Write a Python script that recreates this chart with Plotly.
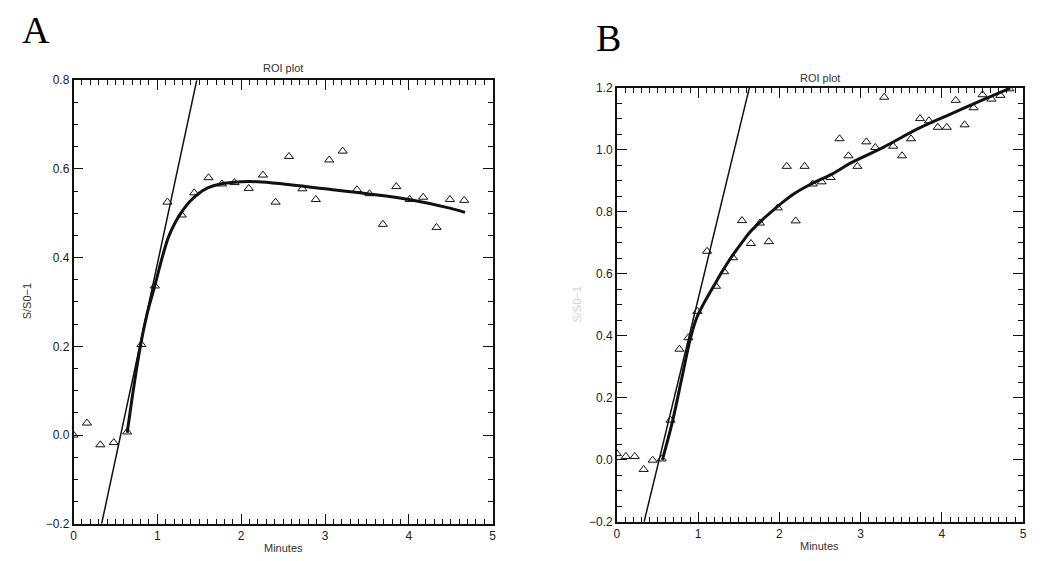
import plotly.graph_objects as go

# ── Panel A: ROI samples, fitted curve and initial-slope line ──
a_minutes = [0, 0.16, 0.32, 0.48, 0.64, 0.81, 0.97, 1.12, 1.29, 1.44, 1.61, 1.77,
             1.92, 2.09, 2.26, 2.41, 2.57, 2.73, 2.89, 3.05, 3.21, 3.38, 3.53,
             3.69, 3.85, 4.01, 4.17, 4.33, 4.49, 4.66]
a_signal = [0.0, 0.027, -0.022, -0.017, 0.007, 0.204, 0.336, 0.525, 0.496, 0.546,
            0.580, 0.566, 0.569, 0.556, 0.586, 0.525, 0.628, 0.555, 0.531, 0.620,
            0.640, 0.553, 0.544, 0.475, 0.560, 0.531, 0.536, 0.468, 0.531, 0.529]
a_fit_minutes = [0.64, 0.72, 0.80, 0.88, 0.97, 1.05, 1.13, 1.21, 1.29, 1.39, 1.49,
                 1.60, 1.75, 2.0, 2.2, 2.5, 3.0, 3.5, 4.0, 4.5, 4.67]
a_fit_signal = [0.005, 0.11, 0.203, 0.275, 0.337, 0.395, 0.445, 0.478, 0.503,
                0.527, 0.544, 0.557, 0.566, 0.571, 0.571, 0.566, 0.555, 0.544,
                0.531, 0.511, 0.502]
a_slope_minutes = [0.335, 1.47]
a_slope_signal = [-0.2, 0.8]

# ── Panel B ──
b_minutes = [0, 0.11, 0.22, 0.33, 0.44, 0.55, 0.66, 0.77, 0.88, 0.99, 1.11, 1.22,
             1.32, 1.43, 1.54, 1.65, 1.76, 1.87, 1.98, 2.09, 2.20, 2.31, 2.41,
             2.52, 2.63, 2.74, 2.85, 2.96, 3.07, 3.18, 3.29, 3.40, 3.51, 3.62,
             3.73, 3.84, 3.95, 4.06, 4.17, 4.28, 4.39, 4.50, 4.61, 4.72, 4.83]
b_signal = [0.020, 0.011, 0.011, -0.031, -0.001, 0.003, 0.128, 0.357, 0.394, 0.479,
            0.673, 0.560, 0.607, 0.652, 0.772, 0.698, 0.764, 0.704, 0.813, 0.947,
            0.771, 0.947, 0.890, 0.897, 0.911, 1.036, 0.981, 0.947, 1.026, 1.008,
            1.170, 1.012, 0.981, 1.036, 1.101, 1.094, 1.073, 1.073, 1.160, 1.081,
            1.136, 1.178, 1.164, 1.176, 1.197]
b_fit_minutes = [0.56, 0.68, 0.80, 0.905, 0.985, 1.06, 1.13, 1.23, 1.33, 1.43,
                 1.55, 1.65, 1.78, 1.90, 2.05, 2.19, 2.39, 2.64, 2.88, 3.29, 3.70,
                 4.10, 4.51, 4.84]
b_fit_signal = [0.0, 0.119, 0.265, 0.392, 0.46, 0.50, 0.533, 0.578, 0.622, 0.662,
                0.705, 0.738, 0.772, 0.800, 0.833, 0.860, 0.890, 0.921, 0.958,
                1.010, 1.068, 1.115, 1.162, 1.199]
b_slope_minutes = [0.335, 1.63]
b_slope_signal = [-0.2, 1.2]

INK = "#111111"
SANS = "Liberation Sans, Arial, sans-serif"
TICKFONT = dict(family=SANS, size=12, color="#222")


def axis_style(**extra):
    base = dict(
        showline=True, linecolor=INK, linewidth=1.5, mirror="ticks",
        ticks="inside", ticklen=10, tickwidth=1.2, tickcolor=INK,
        showgrid=False, zeroline=False, tickfont=TICKFONT,
    )
    base.update(extra)
    return base


fig = go.Figure()

panels = [
    ("x", "y", a_minutes, a_signal, a_fit_minutes, a_fit_signal,
     a_slope_minutes, a_slope_signal),
    ("x2", "y2", b_minutes, b_signal, b_fit_minutes, b_fit_signal,
     b_slope_minutes, b_slope_signal),
]
for xa, ya, t, s, ft, fs, lt, ls in panels:
    fig.add_trace(go.Scatter(x=lt, y=ls, mode="lines", xaxis=xa, yaxis=ya,
                             line=dict(color=INK, width=1.5)))
    fig.add_trace(go.Scatter(x=ft, y=fs, mode="lines", xaxis=xa, yaxis=ya,
                             line=dict(color=INK, width=3, shape="spline")))
    fig.add_trace(go.Scatter(x=t, y=s, mode="markers", xaxis=xa, yaxis=ya,
                             marker=dict(symbol="triangle-up-open", size=8,
                                         color=INK, line=dict(width=1))))

xminor = dict(dtick=0.1, ticks="inside", ticklen=5, tickcolor=INK, tickwidth=1,
              showgrid=False)
yminor = dict(dtick=0.05, ticks="inside", ticklen=5, tickcolor=INK, tickwidth=1,
              showgrid=False)

annotations = [
    dict(text="A", x=33, y=24, font=dict(family="Liberation Serif, serif", size=38, color="#000")),
    dict(text="B", x=610, y=32, font=dict(family="Liberation Serif, serif", size=38, color="#000")),
    dict(text="ROI plot", x=282, y=63),
    dict(text="ROI plot", x=822, y=73),
    dict(text="Minutes", x=282, y=555),
    dict(text="Minutes", x=822, y=553),
    dict(text="S/S0−1", x=25, y=302, textangle=-90),
    dict(text="S/S0−1", x=578, y=305, textangle=-90,
         font=dict(family=SANS, size=11, color="#d0d0d0")),
]
for a in annotations:
    a.setdefault("font", dict(family=SANS, size=11, color="#333"))
    a.update(x=a["x"] / 1050, y=1 - a["y"] / 561, xref="paper", yref="paper",
             showarrow=False, xanchor="center", yanchor="middle")

fig.update_layout(
    width=1050, height=561,
    margin=dict(l=0, r=0, t=0, b=0),
    paper_bgcolor="white", plot_bgcolor="white",
    showlegend=False,
    xaxis=axis_style(domain=[71 / 1050, 493 / 1050], range=[0, 5], dtick=1,
                     tick0=0, minor=xminor, anchor="y"),
    yaxis=axis_style(domain=[31 / 561, 486 / 561], range=[-0.2, 0.8], dtick=0.2,
                     tick0=0, tickformat=".1f", minor=yminor, anchor="x"),
    xaxis2=axis_style(domain=[618 / 1050, 1027 / 1050], range=[0, 5], dtick=1,
                      tick0=0, minor=xminor, anchor="y2"),
    yaxis2=axis_style(domain=[33 / 561, 478 / 561], range=[-0.2, 1.2], dtick=0.2,
                      tick0=0, tickformat=".1f", minor=yminor, anchor="x2"),
    annotations=annotations,
)

# page body margin would push the fixed-size figure off the window
fig.write_html("out.html", config={"displayModeBar": False},
               post_script="document.body.style.margin='0';")
